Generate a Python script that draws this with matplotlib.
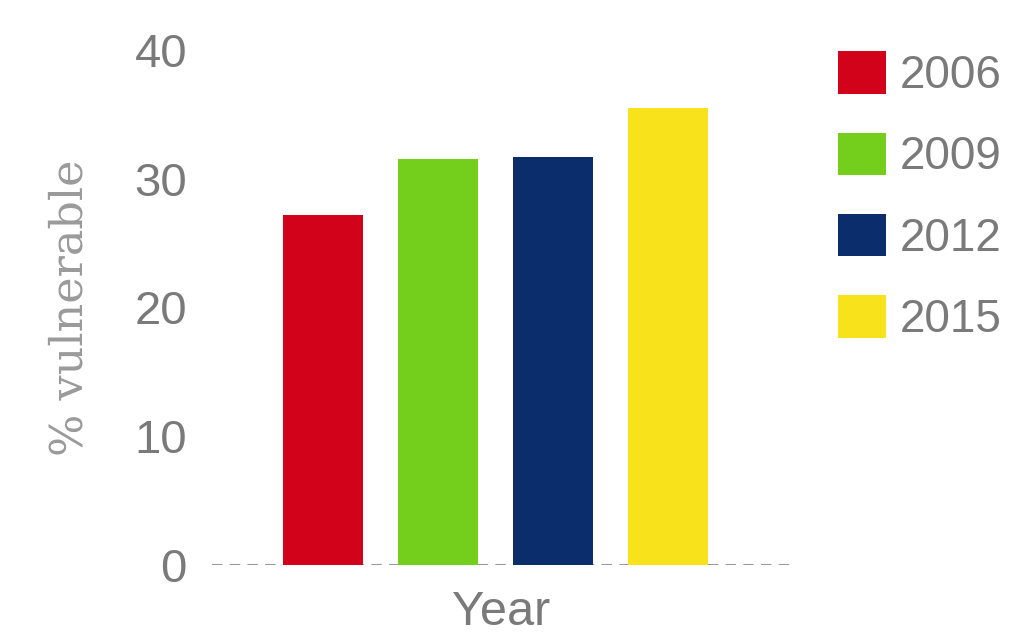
import matplotlib.pyplot as plt
from matplotlib.patches import Patch

# share of households classed as vulnerable, by survey year
years = ['2006', '2009', '2012', '2015']
vulnerable = [27.2, 31.5, 31.7, 35.5]
colors = ['#d2021b', '#74cf1c', '#0b2d6c', '#f8e21b']

plt.rcParams['font.family'] = ['Liberation Sans', 'DejaVu Sans']

fig = plt.figure(figsize=(10.3, 6.34), dpi=100)
ax = fig.add_axes([212/1030, 69/634, 578/1030, 515/634])

pos = range(len(years))
ax.bar(pos, vulnerable, width=0.7, color=colors, zorder=2)

ax.axhline(0, color='#9a9a9a', lw=1.5, ls=(0, (5, 3.5)), zorder=1)
ax.set_xlim(-0.965, 4.06)
ax.set_ylim(0, 40)
ax.set_yticks([0, 10, 20, 30, 40])
ax.set_xticks([])
ax.tick_params(axis='y', length=0, pad=18, labelsize=34, labelcolor='#7a7a7a')
for s in ax.spines.values():
    s.set_visible(False)

ax.set_xlabel('Year', fontsize=35, color='#7a7a7a', labelpad=18)
ax.set_ylabel('% vulnerable', fontsize=32, color='#9a9a9a',
              family=['DejaVu Serif'], labelpad=31)

handles = [Patch(facecolor=c, edgecolor='none') for c in colors]
fig.legend(handles, years, loc='upper left', bbox_to_anchor=(797/1030, 1 - 10/634),
           frameon=False, fontsize=33, labelcolor='#7a7a7a',
           handlelength=1.05, handleheight=1.05, handletextpad=0.3, labelspacing=0.75)

fig.savefig('out.png', dpi=100)
